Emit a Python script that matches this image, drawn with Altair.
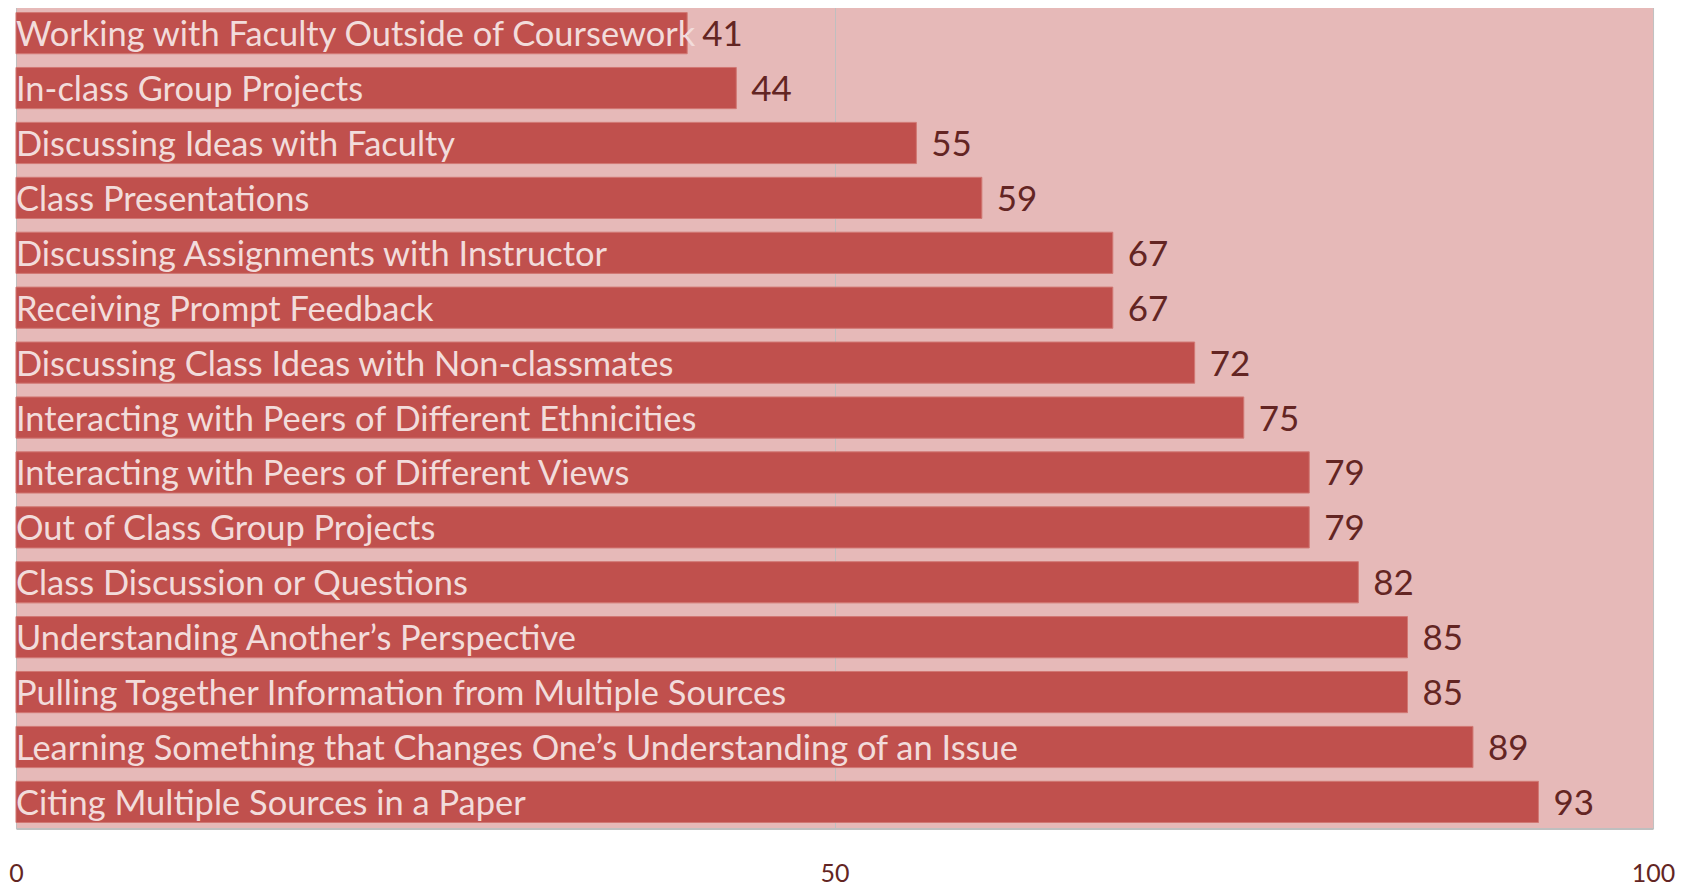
import altair as alt
import pandas as pd

categories = [
    "Working with Faculty Outside of Coursework",
    "In-class Group Projects",
    "Discussing Ideas with Faculty",
    "Class Presentations",
    "Discussing Assignments with Instructor",
    "Receiving Prompt Feedback",
    "Discussing Class Ideas with Non-classmates",
    "Interacting with Peers of Different Ethnicities",
    "Interacting with Peers of Different Views",
    "Out of Class Group Projects",
    "Class Discussion or Questions",
    "Understanding Another\u2019s Perspective",
    "Pulling Together Information from Multiple Sources",
    "Learning Something that Changes One\u2019s Understanding of an Issue",
    "Citing Multiple Sources in a Paper",
]
values = [41, 44, 55, 59, 67, 67, 72, 75, 79, 79, 82, 85, 85, 89, 93]
x_ticks = [0, 50, 100]

df = pd.DataFrame({"category": categories, "value": values})

FONT = "Lato"
yenc = alt.Y("category:N", sort=categories, axis=None,
             scale=alt.Scale(paddingInner=0.25, paddingOuter=0.11))
xscale = alt.Scale(domain=[0, 100], nice=False, zero=True)

base = alt.Chart(df)

bars = base.mark_bar(color="#C0504D", stroke="#D17773", strokeWidth=1).encode(
    x=alt.X("value:Q", scale=xscale,
            axis=alt.Axis(values=x_ticks, title=None, grid=True, gridColor="#BFBFBF",
                          gridWidth=1, ticks=False, domain=True, domainColor="#BFBFBF",
                          domainWidth=2, labelFont=FONT, labelFontSize=25,
                          labelColor="#632523", labelPadding=33, labelBaseline="top",
                          labelFlush=False)),
    y=yenc,
)

cat_text = base.mark_text(align="left", baseline="middle", dx=0, dy=3,
                          font=FONT, fontSize=34.5, color="#F2DCDB").encode(
    x=alt.datum(0, scale=xscale),
    y=yenc,
    text="category:N",
)

val_text = base.mark_text(align="left", baseline="middle", dx=15, dy=2,
                          font=FONT, fontSize=35, color="#632523").encode(
    x=alt.X("value:Q", scale=xscale),
    y=yenc,
    text="value:Q",
)

chart = alt.layer(bars, cat_text, val_text).properties(
    width=1639, height=823,
    padding={"left": 0, "top": -2, "right": 5, "bottom": 0},
    background="white",
).configure_view(fill="#E6B9B8", stroke=None)

chart.save("out.html", embed_options={"renderer": "svg", "actions": False})
